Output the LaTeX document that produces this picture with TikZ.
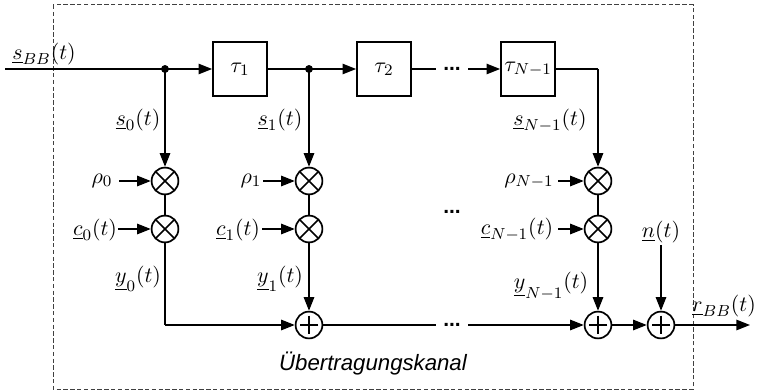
\documentclass[tikz,border=0pt]{standalone}
\usepackage{fontspec}
\newfontfamily\arialfont{Liberation Sans}
\usetikzlibrary{arrows.meta}
\tikzset{
  x=0.5pt,y=-0.5pt,
  wire/.style={line width=0.8pt,draw=black},
  arr/.style={wire,-{Triangle[length=6.8pt,width=5.2pt]}},
  delaybox/.style={draw,line width=0.85pt,minimum width=27pt,minimum height=27pt,inner sep=0pt},
  opnode/.style={draw,circle,line width=0.85pt,minimum size=13.4pt,inner sep=0pt},
  mulop/.style={opnode,path picture={\draw[line width=0.8pt] (path picture bounding box.north west)--(path picture bounding box.south east) (path picture bounding box.north east)--(path picture bounding box.south west);}},
  addop/.style={opnode,path picture={\draw[line width=0.8pt] ([yshift=4.7pt]path picture bounding box.center)--([yshift=-4.7pt]path picture bounding box.center) ([xshift=4.7pt]path picture bounding box.center)--([xshift=-4.7pt]path picture bounding box.center);}},
  junction/.style={circle,fill=black,draw=black,line width=0.3pt,inner sep=0pt,minimum size=3.6pt},
  lab/.style={inner sep=0pt,font=\fontsize{11.2}{13}\selectfont},
  gapdots/.style={inner sep=0pt,minimum width=16pt,minimum height=6pt,font=\arialfont\bfseries\fontsize{10.5}{12}\selectfont},
}
\newcommand{\ul}[1]{\underline{#1}}
\begin{document}
\begin{tikzpicture}
\useasboundingbox (0,0) rectangle (758,390);
\draw[line width=0.5pt,draw=black!75,dash pattern=on 2.2pt off 1.2pt] (53,5) rectangle (693,389);

\node[delaybox] (t1) at (240,69) {\fontsize{11.2}{13}\selectfont$\tau_1$};
\node[delaybox] (t2) at (384,69) {\fontsize{11.2}{13}\selectfont$\tau_2$};
\node[delaybox] (t3) at (528,69) {\fontsize{11.2}{13}\selectfont$\tau_{N-1}$};
\coordinate (j0c) at (165,69);
\coordinate (j1c) at (309,69);
\coordinate (in) at (5,69);
\coordinate (k3) at (598,69);
\coordinate (k4) at (165,325);
\node[gapdots] (d1) at (452,69) {...};
\node[gapdots] (d2) at (452,212) {...};
\node[gapdots] (d3) at (452,325) {...};

\node[mulop] (m0) at (165,181) {};
\node[mulop] (c0) at (165,229) {};
\node[mulop] (m1) at (309,181) {};
\node[mulop] (c1) at (309,229) {};
\node[mulop] (m2) at (598,181) {};
\node[mulop] (c2) at (598,229) {};
\node[addop] (p1) at (309,325) {};
\node[addop] (p2) at (598,325) {};
\node[addop] (p3) at (661,325) {};

\coordinate (ra0) at (119,181);
\coordinate (ra1) at (263,181);
\coordinate (ra2) at (558,181);
\coordinate (ca0) at (118,229);
\coordinate (ca1) at (262,229);
\coordinate (ca2) at (558,229);
\coordinate (na) at (661,245);
\coordinate (out) at (750,325);

\node[lab] (lsbb) at (44,54) {$\ul{s}_{BB}(t)$};
\node[lab] (ls0) at (138,120) {$\ul{s}_0(t)$};
\node[lab] (ls1) at (280,120) {$\ul{s}_1(t)$};
\node[lab] (ls2) at (550,121) {$\ul{s}_{N-1}(t)$};
\node[lab] (lr0) at (102,181) {$\rho_0$};
\node[lab] (lr1) at (251,181) {$\rho_1$};
\node[lab] (lr2) at (529,181) {$\rho_{N-1}$};
\node[lab] (lc0) at (95,230) {$\ul{c}_0(t)$};
\node[lab] (lc1) at (238,230) {$\ul{c}_1(t)$};
\node[lab] (lc2) at (517,230) {$\ul{c}_{N-1}(t)$};
\node[lab] (ly0) at (138,279) {$\ul{y}_0(t)$};
\node[lab] (ly1) at (280,279) {$\ul{y}_1(t)$};
\node[lab] (ly2) at (551,286) {$\ul{y}_{N-1}(t)$};
\node[lab] (ln) at (661,232) {$\ul{n}(t)$};
\node[lab] (lrbb) at (724,306) {$\ul{r}_{BB}(t)$};
\node[inner sep=0pt,font=\arialfont\itshape\fontsize{11.1}{13}\selectfont] (title) at (373,364) {Übertragungskanal};

\draw[wire] (in) -- (j0c);
\draw[arr] (j0c) -- (t1);
\draw[wire] (t1) -- (j1c);
\draw[arr] (j1c) -- (t2);
\draw[wire] (t2) -- (d1);
\draw[arr] (d1) -- (t3);
\draw[wire] (t3.east) -- (k3);
\draw[arr] (k3) -- (m2);
\draw[arr] (j0c) -- (m0);
\draw[arr] (j1c) -- (m1);
\draw[wire] (m0) -- (c0);
\draw[wire] (m1) -- (c1);
\draw[wire] (m2) -- (c2);
\draw[arr] (ra0) -- (m0);
\draw[arr] (ra1) -- (m1);
\draw[arr] (ra2) -- (m2);
\draw[arr] (ca0) -- (c0);
\draw[arr] (ca1) -- (c1);
\draw[arr] (ca2) -- (c2);
\draw[wire] (c0) -- (k4);
\draw[arr] (k4) -- (p1);
\draw[arr] (c1) -- (p1);
\draw[wire] (p1) -- (d3);
\draw[arr] (d3) -- (p2);
\draw[arr] (c2) -- (p2);
\draw[arr] (p2) -- (p3);
\draw[arr] (na) -- (p3);
\draw[arr] (p3) -- (out);
\node[junction] (j0) at (j0c) {};
\node[junction] (j1) at (j1c) {};
\end{tikzpicture}
\end{document}
